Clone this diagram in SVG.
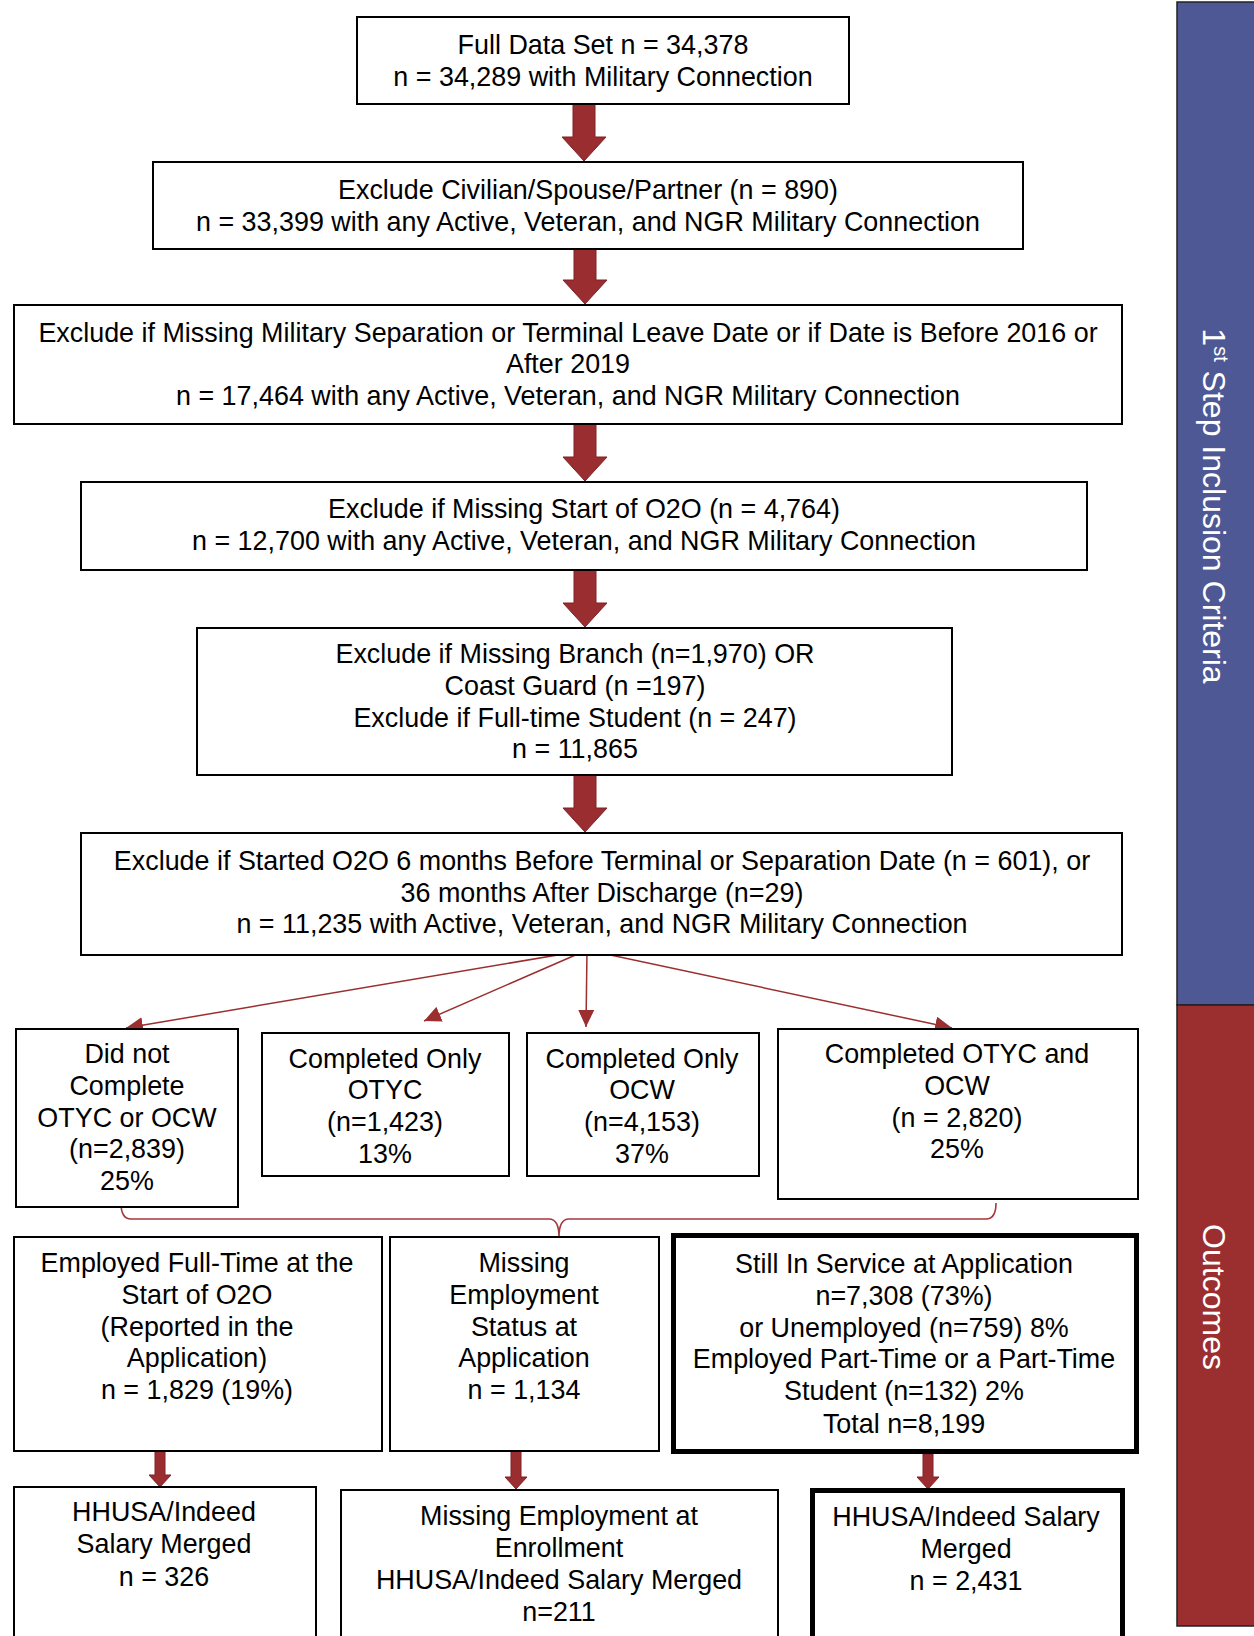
<svg xmlns="http://www.w3.org/2000/svg" width="1254" height="1636" viewBox="0 0 1254 1636">
<defs>
<style>
.box{fill:#fff;stroke:#000;stroke-width:2}
.thick{fill:#fff;stroke:#000;stroke-width:5}
.t{font-family:"Liberation Sans",Arial,Helvetica,sans-serif;font-size:26.9px;fill:#000;text-anchor:middle}
.bar{font-family:"Liberation Sans",Arial,Helvetica,sans-serif;font-size:32px;fill:#fff;text-anchor:middle}
.big{fill:#992D2F;stroke:#7E2226;stroke-width:1}
.fan{fill:none;stroke:#9B2F2F;stroke-width:1.5}
.brace{fill:none;stroke:#A3393C;stroke-width:1.6}
</style>
<marker id="ah" markerUnits="userSpaceOnUse" markerWidth="18" markerHeight="16" refX="17" refY="8" orient="auto">
<path d="M0,0 L17,8 L0,16 Z" fill="#9B2F2F"/>
</marker>
</defs>
<rect width="1254" height="1636" fill="#fff"/>

<g id="side-bars">
<rect x="1177" y="2" width="80" height="1003" fill="#4E5894" stroke="#222" stroke-width="1.5"/>
<rect x="1177" y="1005" width="80" height="621" fill="#9B2F30" stroke="#222" stroke-width="1.5"/>
<text class="bar" transform="translate(1203,506) rotate(90)">1<tspan font-size="20" baseline-shift="super">st</tspan> Step Inclusion Criteria</text>
<text class="bar" transform="translate(1203,1297) rotate(90)">Outcomes</text>
</g>

<g id="connectors">
<path class="big" d="M573,104 L595,104 L595,137 L606,137 L584,161 L562,137 L573,137 Z"/>
<path class="big" d="M574,249 L596,249 L596,280 L607,280 L585,304 L563,280 L574,280 Z"/>
<path class="big" d="M574,424 L596,424 L596,457 L607,457 L585,481 L563,457 L574,457 Z"/>
<path class="big" d="M574,570 L596,570 L596,603 L607,603 L585,627 L563,603 L574,603 Z"/>
<path class="big" d="M574,775 L596,775 L596,808 L607,808 L585,832 L563,808 L574,808 Z"/>
<line class="fan" x1="587" y1="950" x2="126" y2="1028" marker-end="url(#ah)"/>
<line class="fan" x1="587" y1="950" x2="424" y2="1021" marker-end="url(#ah)"/>
<line class="fan" x1="587" y1="950" x2="586" y2="1027" marker-end="url(#ah)"/>
<line class="fan" x1="587" y1="950" x2="952" y2="1028" marker-end="url(#ah)"/>
<path class="brace" d="M121,1203 Q121,1219 131,1219 L549,1219 Q559,1219 559,1237 Q559,1219 569,1219 L986,1219 Q996,1219 996,1203"/>
<path class="big" d="M155,1451 L165,1451 L165,1475 L171,1475 L160,1487 L149,1475 L155,1475 Z"/>
<path class="big" d="M511,1451 L521,1451 L521,1477 L527,1477 L516,1489 L505,1477 L511,1477 Z"/>
<path class="big" d="M923,1454 L933,1454 L933,1477 L939,1477 L928,1489 L917,1477 L923,1477 Z"/>
</g>

<g id="n1"><rect class="box" x="357" y="17" width="492" height="87"/>
<text class="t" x="603" y="54">Full Data Set n = 34,378</text>
<text class="t" x="603" y="86">n = 34,289 with Military Connection</text></g>

<g id="n2"><rect class="box" x="153" y="162" width="870" height="87"/>
<text class="t" x="588" y="199">Exclude Civilian/Spouse/Partner (n = 890)</text>
<text class="t" x="588" y="231">n = 33,399 with any Active, Veteran, and NGR Military Connection</text></g>

<g id="n3"><rect class="box" x="14" y="305" width="1108" height="119"/>
<text class="t" x="568" y="342">Exclude if Missing Military Separation or Terminal Leave Date or if Date is Before 2016 or</text>
<text class="t" x="568" y="373">After 2019</text>
<text class="t" x="568" y="405">n = 17,464 with any Active, Veteran, and NGR Military Connection</text></g>

<g id="n4"><rect class="box" x="81" y="482" width="1006" height="88"/>
<text class="t" x="584" y="518">Exclude if Missing Start of O2O (n = 4,764)</text>
<text class="t" x="584" y="550">n = 12,700 with any Active, Veteran, and NGR Military Connection</text></g>

<g id="n5"><rect class="box" x="197" y="628" width="755" height="147"/>
<text class="t" x="575" y="663">Exclude if Missing Branch (n=1,970) OR</text>
<text class="t" x="575" y="695">Coast Guard (n =197)</text>
<text class="t" x="575" y="727">Exclude if Full-time Student (n = 247)</text>
<text class="t" x="575" y="758">n = 11,865</text></g>

<g id="n6"><rect class="box" x="81" y="833" width="1041" height="122"/>
<text class="t" x="602" y="870">Exclude if Started O2O 6 months Before Terminal or Separation Date (n = 601), or</text>
<text class="t" x="602" y="902">36 months After Discharge (n=29)</text>
<text class="t" x="602" y="933">n = 11,235 with Active, Veteran, and NGR Military Connection</text></g>

<g id="nA"><rect class="box" x="16" y="1029" width="222" height="178"/>
<text class="t" x="127" y="1063">Did not</text>
<text class="t" x="127" y="1095">Complete</text>
<text class="t" x="127" y="1127">OTYC or OCW</text>
<text class="t" x="127" y="1158">(n=2,839)</text>
<text class="t" x="127" y="1190">25%</text></g>

<g id="nB"><rect class="box" x="262" y="1033" width="247" height="143"/>
<text class="t" x="385" y="1068">Completed Only</text>
<text class="t" x="385" y="1099">OTYC</text>
<text class="t" x="385" y="1131">(n=1,423)</text>
<text class="t" x="385" y="1163">13%</text></g>

<g id="nC"><rect class="box" x="527" y="1033" width="232" height="143"/>
<text class="t" x="642" y="1068">Completed Only</text>
<text class="t" x="642" y="1099">OCW</text>
<text class="t" x="642" y="1131">(n=4,153)</text>
<text class="t" x="642" y="1163">37%</text></g>

<g id="nD"><rect class="box" x="778" y="1029" width="360" height="170"/>
<text class="t" x="957" y="1063">Completed OTYC and</text>
<text class="t" x="957" y="1095">OCW</text>
<text class="t" x="957" y="1127">(n = 2,820)</text>
<text class="t" x="957" y="1158">25%</text></g>

<g id="nE"><rect class="box" x="14" y="1237" width="368" height="214"/>
<text class="t" x="197" y="1272">Employed Full-Time at the</text>
<text class="t" x="197" y="1304">Start of O2O</text>
<text class="t" x="197" y="1336">(Reported in the</text>
<text class="t" x="197" y="1367">Application)</text>
<text class="t" x="197" y="1399">n = 1,829 (19%)</text></g>

<g id="nF"><rect class="box" x="390" y="1237" width="269" height="214"/>
<text class="t" x="524" y="1272">Missing</text>
<text class="t" x="524" y="1304">Employment</text>
<text class="t" x="524" y="1336">Status at</text>
<text class="t" x="524" y="1367">Application</text>
<text class="t" x="524" y="1399">n = 1,134</text></g>

<g id="nG"><rect class="thick" x="673.5" y="1235.5" width="463" height="216"/>
<text class="t" x="904" y="1273">Still In Service at Application</text>
<text class="t" x="904" y="1305">n=7,308 (73%)</text>
<text class="t" x="904" y="1337">or Unemployed (n=759) 8%</text>
<text class="t" x="904" y="1368">Employed Part-Time or a Part-Time</text>
<text class="t" x="904" y="1400">Student (n=132) 2%</text>
<text class="t" x="904" y="1433">Total n=8,199</text></g>

<g id="nH"><rect class="box" x="14" y="1487" width="302" height="170"/>
<text class="t" x="164" y="1521">HHUSA/Indeed</text>
<text class="t" x="164" y="1553">Salary Merged</text>
<text class="t" x="164" y="1586">n = 326</text></g>

<g id="nI"><rect class="box" x="341" y="1490" width="437" height="170"/>
<text class="t" x="559" y="1525">Missing Employment at</text>
<text class="t" x="559" y="1557">Enrollment</text>
<text class="t" x="559" y="1589">HHUSA/Indeed Salary Merged</text>
<text class="t" x="559" y="1621">n=211</text></g>

<g id="nJ"><rect class="thick" x="812.5" y="1490.5" width="310" height="170"/>
<text class="t" x="966" y="1526">HHUSA/Indeed Salary</text>
<text class="t" x="966" y="1558">Merged</text>
<text class="t" x="966" y="1590">n = 2,431</text></g>
</svg>
